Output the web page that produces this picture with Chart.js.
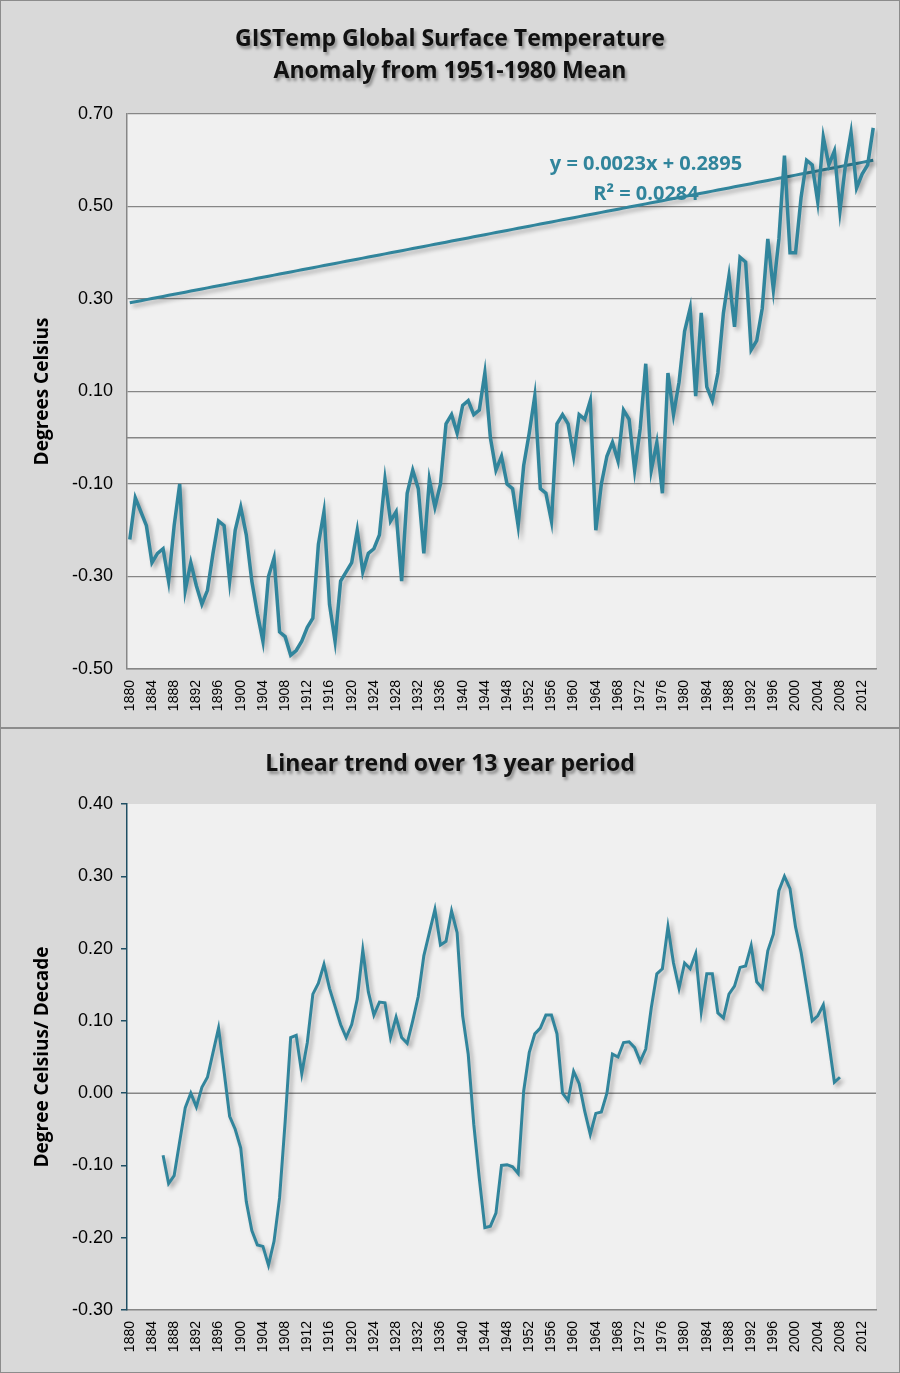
<!DOCTYPE html>
<html>
<head>
<meta charset="utf-8">
<script src="https://cdn.jsdelivr.net/npm/chart.js@4.4.0/dist/chart.umd.min.js"></script>
<style>
  body { margin: 0; background: #fff; }
  .panel { position: absolute; left: 0; width: 898px; background: #d9d9d9; border: 1px solid #8c8c8c; }
  .title { position: absolute; left: 0; width: 898px; text-align: center; font-family: "Open Sans", sans-serif;
           font-weight: bold; font-size: 23px; line-height: 32px; color: #111; text-shadow: 2px 3px 3px rgba(0,0,0,0.35); }
  canvas { position: absolute; left: 0; top: 0; }
</style>
</head>
<body>
<div class="panel" id="topPanel" style="top:0; height:726px;">
  <canvas id="anomalyPlot"></canvas>
  <div class="title" style="top:20px;">GISTemp Global Surface Temperature<br>Anomaly from 1951-1980 Mean</div>
</div>
<div class="panel" id="bottomPanel" style="top:728px; height:643px;">
  <canvas id="trendPlot"></canvas>
  <div class="title" style="top:17px;">Linear trend over 13 year period</div>
</div>
<script>
const years = []
for (let y = 1880; y <= 2014; y++) years.push(String(y))

const anomaly = [
  -0.22, -0.13, -0.16, -0.19, -0.27, -0.25, -0.24, -0.31, -0.19, -0.10,
  -0.33, -0.27, -0.32, -0.36, -0.33, -0.25, -0.18, -0.19, -0.31, -0.20,
  -0.15, -0.21, -0.31, -0.38, -0.44, -0.30, -0.26, -0.42, -0.43, -0.47,
  -0.46, -0.44, -0.41, -0.39, -0.23, -0.16, -0.36, -0.44, -0.31, -0.29,
  -0.27, -0.20, -0.29, -0.25, -0.24, -0.21, -0.09, -0.18, -0.16, -0.31,
  -0.12, -0.07, -0.11, -0.25, -0.09, -0.15, -0.10, 0.03, 0.05, 0.01,
  0.07, 0.08, 0.05, 0.06, 0.14, 0.00, -0.07, -0.04, -0.10, -0.11,
  -0.19, -0.06, 0.01, 0.09, -0.11, -0.12, -0.18, 0.03, 0.05, 0.03,
  -0.04, 0.05, 0.04, 0.08, -0.20, -0.10, -0.04, -0.01, -0.05, 0.06,
  0.04, -0.07, 0.02, 0.16, -0.07, -0.01, -0.12, 0.14, 0.05, 0.12,
  0.23, 0.28, 0.09, 0.27, 0.11, 0.08, 0.14, 0.27, 0.35, 0.24,
  0.39, 0.38, 0.19, 0.21, 0.28, 0.43, 0.32, 0.43, 0.61, 0.40,
  0.40, 0.52, 0.60, 0.59, 0.51, 0.65, 0.59, 0.62, 0.49, 0.59,
  0.66, 0.54, 0.57, 0.59, 0.67
]

// 13-year trend, first value at 1886, last at 2008
const trend13 = [
  null, null, null, null, null, null,
  -0.086, -0.125, -0.114, -0.067, -0.020, 0.000, -0.019, 0.008, 0.022, 0.056,
  0.090, 0.030, -0.032, -0.050, -0.076, -0.150, -0.190, -0.210, -0.212, -0.238,
  -0.205, -0.145, -0.040, 0.077, 0.080, 0.027, 0.070, 0.137, 0.152, 0.178,
  0.145, 0.120, 0.095, 0.077, 0.095, 0.130, 0.198, 0.140, 0.108, 0.126,
  0.125, 0.077, 0.105, 0.077, 0.069, 0.100, 0.134, 0.190, 0.222, 0.254,
  0.205, 0.210, 0.252, 0.222, 0.107, 0.054, -0.043, -0.118, -0.186, -0.184,
  -0.166, -0.100, -0.099, -0.102, -0.111, 0.003, 0.056, 0.082, 0.090, 0.108,
  0.108, 0.082, 0.000, -0.010, 0.030, 0.013, -0.025, -0.057, -0.028, -0.026,
  0.000, 0.054, 0.050, 0.070, 0.071, 0.063, 0.044, 0.061, 0.118, 0.165,
  0.172, 0.230, 0.180, 0.145, 0.180, 0.172, 0.193, 0.113, 0.165, 0.165,
  0.111, 0.104, 0.137, 0.148, 0.174, 0.176, 0.204, 0.154, 0.145, 0.197,
  0.220, 0.280, 0.300, 0.283, 0.230, 0.195, 0.148, 0.100, 0.107, 0.122,
  0.070, 0.015, 0.022
]

// Excel linear trendline shown on the chart
const slope = 0.0023
const intercept = 0.2895
const trendLine = years.map((y, i) => slope * (i + 1) + intercept)

const lineColor = '#31859c'
const tickFont = { family: 'Arial, "Liberation Sans"', size: 18 }
const yearFont = { family: 'Arial, "Liberation Sans"', size: 14 }

const shadowPlugin = {
  id: 'shadow',
  beforeDatasetDraw(chart) {
    const ctx = chart.ctx
    ctx.save()
    ctx.shadowColor = 'rgba(0,0,0,0.3)'
    ctx.shadowOffsetX = 3
    ctx.shadowOffsetY = 3
    ctx.shadowBlur = 4
  },
  afterDatasetDraw(chart) { chart.ctx.restore() }
}

const plotBgPlugin = {
  id: 'plotBg',
  beforeDraw(chart) {
    const { ctx, chartArea: a } = chart
    ctx.save()
    ctx.fillStyle = '#f0f0f0'
    ctx.fillRect(a.left, a.top, a.right - a.left, a.bottom - a.top)
    // horizontal axis line at zero
    const y0 = chart.scales.y.getPixelForValue(0)
    ctx.strokeStyle = '#868686'
    ctx.lineWidth = 1.5
    ctx.beginPath(); ctx.moveTo(a.left, y0); ctx.lineTo(a.right, y0); ctx.stroke()
    ctx.restore()
  }
}

const labelPlugin = {
  id: 'eqLabel',
  afterDatasetsDraw(chart) {
    if (chart.canvas.id !== 'anomalyPlot') return
    const ctx = chart.ctx
    ctx.save()
    ctx.fillStyle = lineColor
    ctx.font = 'bold 20px "Open Sans", sans-serif'
    ctx.textAlign = 'center'
    ctx.fillText('y = 0.0023x + 0.2895', 645, 169)
    ctx.fillText('R² = 0.0284', 645, 199)
    ctx.restore()
  }
}

const xScale = {
  offset: true,
  grid: { display: false },
  border: { color: '#868686', width: 1.5 },
  ticks: {
    autoSkip: false, maxRotation: 90, minRotation: 90, color: '#000', font: yearFont, padding: 3,
    callback: function (v, i) { return i % 4 === 0 ? this.getLabelForValue(v) : null }
  },
  afterFit: s => { s.height = 58 }
}

const makeY = (min, max, step, title, grid) => ({
  min: min, max: max,
  grid: grid ? { color: '#868686', lineWidth: 1.2, drawTicks: false }
             : { drawOnChartArea: false, drawTicks: true, tickLength: 6, color: '#1f4e63', lineWidth: 1.5 },
  border: { color: grid ? '#868686' : '#1f4e63', width: 1.5 },
  ticks: { stepSize: step, color: '#000', font: tickFont, padding: grid ? 14 : 8, callback: v => v.toFixed(2) },
  title: { display: true, text: title, color: '#000', font: { family: '"Open Sans", sans-serif', size: 19, weight: 'bold' }, padding: { top: 30, bottom: 0 } },
  afterFit: s => { s.width = 126 }
})

const topCanvas = document.getElementById('anomalyPlot')
topCanvas.width = 898; topCanvas.height = 726
new Chart(topCanvas, {
  type: 'line',
  data: {
    labels: years,
    datasets: [{
      data: anomaly,
      borderColor: lineColor,
      borderWidth: 3.5,
      pointRadius: 0,
      tension: 0
    }, {
      data: trendLine,
      borderColor: lineColor,
      borderWidth: 3,
      pointRadius: 0,
      tension: 0
    }]
  },
  options: {
    responsive: false,
    animation: false,
    layout: { padding: { top: 113, right: 23, left: 0, bottom: 0 } },
    plugins: { legend: { display: false }, tooltip: { enabled: false } },
    scales: { x: xScale, y: makeY(-0.5, 0.7, 0.2, 'Degrees Celsius', true) }
  },
  plugins: [plotBgPlugin, shadowPlugin, labelPlugin]
})

const bottomCanvas = document.getElementById('trendPlot')
bottomCanvas.width = 898; bottomCanvas.height = 643
new Chart(bottomCanvas, {
  type: 'line',
  data: {
    labels: years,
    datasets: [{
      data: trend13,
      borderColor: lineColor,
      borderWidth: 3,
      pointRadius: 0,
      tension: 0
    }]
  },
  options: {
    responsive: false,
    animation: false,
    layout: { padding: { top: 75, right: 23, left: 0, bottom: 4 } },
    plugins: { legend: { display: false }, tooltip: { enabled: false } },
    scales: { x: xScale, y: makeY(-0.3, 0.4, 0.1, 'Degree Celsius/ Decade', false) }
  },
  plugins: [plotBgPlugin, shadowPlugin]
})
</script>
</body>
</html>
